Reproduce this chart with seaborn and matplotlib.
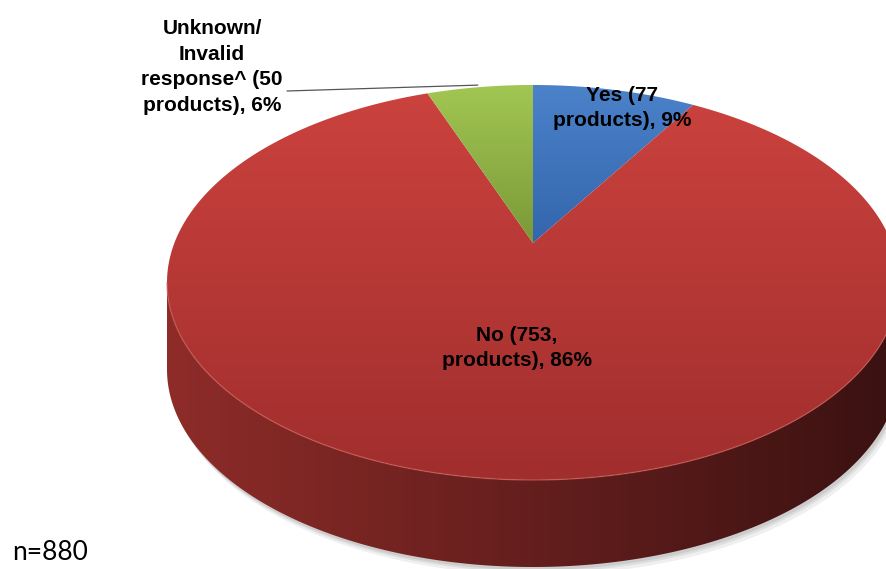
"""
3D-style pie chart: product responses (Yes / No / Unknown)
"""

import numpy as np
import matplotlib
matplotlib.use("Agg")
import matplotlib.pyplot as plt
from matplotlib.patches import Polygon
from matplotlib.colors import LinearSegmentedColormap
import seaborn as sns

# data
categories = ["Yes", "No", "Unknown/Invalid response^"]
counts = [77, 753, 50]
label_texts = [
    "Yes (77\nproducts), 9%",
    "No (753,\nproducts), 86%",
    "Unknown/\nInvalid\nresponse^ (50\nproducts), 6%",
]
note_text = "n=880"

# colours (top of face -> bottom of face)
top_colors = [("#4B82CA", "#3366AC"), ("#CB423E", "#A02E2D"), ("#A2C653", "#7A9937")]
side_colors = ["#8E2C29", "#3A1111"]

# layout (pixel space)
W, H = 887, 569
vx, vy = 533, 243        # projected pie centre
rx, ry = 358.6, 189.6    # radii before perspective
persp = 0.2              # perspective factor
depth = 87               # side thickness
label_pos = [(622, 108), (517, 348), (212, 67)]

sns.set_theme(style="white")
plt.rcParams["font.family"] = ["Liberation Sans", "DejaVu Sans"]


def project(theta):
    """theta: degrees clockwise from 12 o'clock -> screen x, y"""
    t = np.radians(theta)
    u, v = np.sin(t), np.cos(t)
    k = 1.0 + persp * v
    return vx + rx * u / k, vy - ry * v / k


def gradient_fill(ax, poly_xy, c0, c1, horizontal=False, zorder=2):
    patch = Polygon(poly_xy, closed=True, facecolor="none", edgecolor="none", zorder=zorder)
    ax.add_patch(patch)
    cmap = LinearSegmentedColormap.from_list("g", [c0, c1])
    g = np.linspace(0, 1, 256)
    grad = g[None, :] if horizontal else g[:, None]
    x0, y0 = poly_xy[:, 0].min(), poly_xy[:, 1].min()
    x1, y1 = poly_xy[:, 0].max(), poly_xy[:, 1].max()
    im = ax.imshow(grad, extent=(x0, x1, y1, y0), cmap=cmap, aspect="auto",
                   interpolation="bilinear", zorder=zorder)
    im.set_clip_path(patch)


fig = plt.figure(figsize=(W / 100, H / 100), dpi=100)
ax = fig.add_axes([0, 0, 1, 1])

# side wall (front half, visible between silhouette angles)
ts = np.linspace(101.5, 258.5, 300)
sx, sy = project(ts)
side = np.vstack([np.column_stack([sx, sy]), np.column_stack([sx[::-1], sy[::-1] + depth])])

# soft shadow
for off, a in [(8, 0.15), (5, 0.2), (3, 0.25)]:
    ax.add_patch(Polygon(side + [off * 0.6, off], closed=True, facecolor="#9a9a9a",
                         edgecolor="none", alpha=a, zorder=0))

gradient_fill(ax, side, side_colors[0], side_colors[1], horizontal=True, zorder=1)

# top faces
total = sum(counts)
start = 0.0
for cnt, (c0, c1) in zip(counts, top_colors):
    span = 360.0 * cnt / total
    th = np.linspace(start, start + span, max(int(span * 2), 10))
    ex, ey = project(th)
    poly = np.vstack([[vx, vy], np.column_stack([ex, ey])])
    gradient_fill(ax, poly, c0, c1, zorder=2)
    start += span

# rim highlight along the front edge
ax.plot(sx, sy, color="#d0605a", lw=1.0, alpha=0.6, zorder=3)

# labels
for txt, (lx, ly) in zip(label_texts, label_pos):
    ax.text(lx, ly, txt, ha="center", va="center", ma="center", fontsize=15,
            fontweight="bold", color="black", linespacing=1.45, zorder=5)

# leader line for the small slice
gx, gy = project(360.0 - 0.5 * 360.0 * counts[2] / total)
ax.plot([287, gx - 2], [91, gy - 2], color="#555555", lw=0.9, zorder=4)

ax.text(12, 552, note_text, ha="left", va="center", fontsize=19,
        family=["Lato", "DejaVu Sans"], color="black")

ax.set_xlim(0, W)
ax.set_ylim(H, 0)
ax.axis("off")

plt.savefig("out.png", dpi=100)
